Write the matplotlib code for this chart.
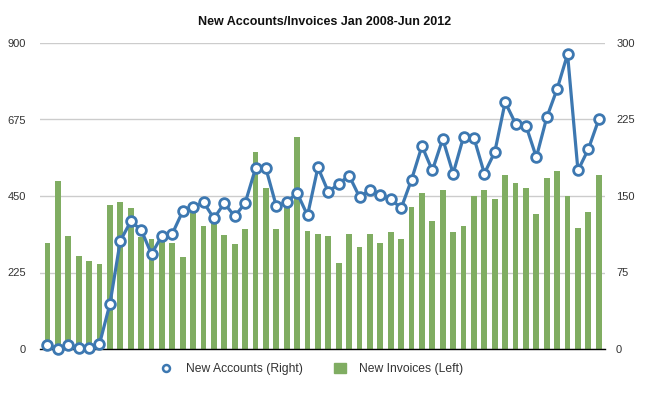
"""New accounts / invoices combo chart, Jan 2008 - Jun 2012."""

import matplotlib
matplotlib.use("Agg")
import matplotlib.pyplot as plt
from matplotlib.lines import Line2D
from matplotlib.patches import Patch

plt.rcParams["font.family"] = ["Liberation Sans", "DejaVu Sans"]

# monthly values, Jan 2008 .. Jun 2012 (54 months)
months = [f"{y}-{m:02d}" for y in range(2008, 2013) for m in range(1, 13)][:54]

new_invoices = [
    311, 495, 333, 274, 259, 250, 425, 433, 414, 330, 323, 320, 311, 272,
    404, 362, 375, 336, 309, 353, 578, 473, 353, 443, 623, 347, 339, 333,
    253, 339, 300, 339, 312, 345, 323, 417, 459, 376, 467, 345, 361, 450,
    467, 441, 512, 489, 473, 398, 503, 523, 450, 356, 403, 512,
]

new_accounts = [
    4, 0, 4, 1, 1, 5, 44, 106, 125, 117, 93, 111, 113, 135,
    139, 144, 128, 143, 130, 143, 177, 177, 140, 144, 153, 131, 178, 154,
    162, 170, 149, 156, 151, 147, 138, 166, 199, 175, 206, 172, 208, 207,
    172, 193, 242, 221, 219, 188, 227, 255, 289, 175, 196, 225,
]

left_ticks = [0, 225, 450, 675, 900]
right_ticks = [0, 75, 150, 225, 300]

GREEN = "#80ad62"
BLUE = "#3d78b1"
GRID = "#cccccc"
TXT = "#333333"

fig = plt.figure(figsize=(6.5, 3.96), dpi=100)
ax = fig.add_axes([40 / 650, 47 / 396, 565 / 650, 306 / 396])
x = list(range(len(months)))

ax.bar(x, new_invoices, width=0.55, color=GREEN, zorder=2)
ax.set_ylim(0, 900)
ax.set_yticks(left_ticks)
ax.set_xlim(-0.72, 53.6)
ax.set_xticks([])
ax.grid(axis="y", color=GRID, lw=1, zorder=0)
for s in ("top", "left", "right"):
    ax.spines[s].set_visible(False)
ax.spines["bottom"].set_color("black")
ax.spines["bottom"].set_linewidth(1)
ax.tick_params(axis="y", length=0, labelsize=8, labelcolor=TXT, pad=10)
ax.set_axisbelow(True)

ax2 = ax.twinx()
ax2.plot(x, new_accounts, color=BLUE, lw=2.3, marker="o", ms=7,
         mfc="white", mec=BLUE, mew=2, zorder=3, clip_on=False)
ax2.set_ylim(0, 300)
ax2.set_yticks(right_ticks)
for s in ax2.spines.values():
    s.set_visible(False)
ax2.tick_params(axis="y", length=0, labelsize=8, labelcolor=TXT, pad=8)

fig.text(0.5, 0.944, "New Accounts/Invoices Jan 2008-Jun 2012",
         ha="center", va="center", fontsize=9, fontweight="bold",
         color="#111111")

handles = [
    Line2D([], [], color=BLUE, lw=0, marker="o", ms=5, mfc="white",
           mec=BLUE, mew=1.8),
    Patch(color=GREEN),
]
fig.legend(handles, ["New Accounts (Right)", "New Invoices (Left)"],
           loc="center", bbox_to_anchor=(0.48, 0.068), ncol=2, frameon=False,
           fontsize=8.7, handlelength=1.0, handleheight=0.9,
           handletextpad=1.1, columnspacing=2.6, labelcolor=TXT)

fig.savefig("out.png", dpi=100)
plt.close(fig)
